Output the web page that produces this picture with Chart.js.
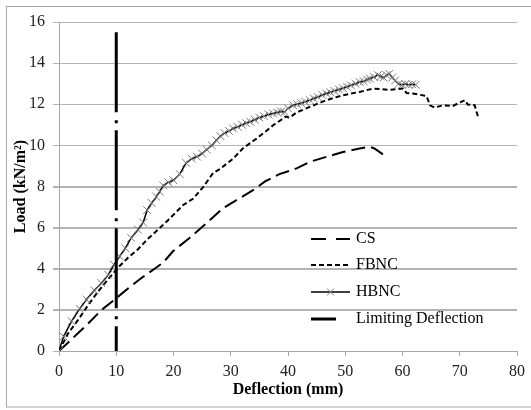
<!DOCTYPE html>
<html>
<head>
<meta charset="utf-8">
<script src="https://cdn.jsdelivr.net/npm/chart.js@4.4.1/dist/chart.umd.min.js"></script>
<style>
  html, body { margin: 0; padding: 0; background: #fff; }
  canvas { display: block; background: #fff; }
</style>
</head>
<body>
<canvas id="loadChart" width="531" height="410"></canvas>
<script>
// Deflection (mm) / load (kN/m2)
const csX = [0, 2.7, 5.1, 7.4, 9.7, 12.1, 14.4, 16.7, 18.2, 19.9, 22.8, 25.7, 28.6, 31.0, 33.9, 36.0, 38.5, 41.5, 43.8, 46.7, 49.6, 52.5, 54.3, 55.1, 57.2];
const csY = [0, 0.7, 1.34, 1.99, 2.5, 3.05, 3.55, 4.0, 4.3, 4.85, 5.5, 6.2, 6.93, 7.34, 7.82, 8.25, 8.6, 8.88, 9.2, 9.44, 9.68, 9.85, 9.93, 9.85, 9.44];

const fbncX = [0, 1.6, 3.3, 5.1, 6.8, 8.6, 10.3, 12.1, 13.8, 15.5, 17.3, 19.0, 19.9, 21.7, 23.4, 25.2, 26.9, 28.1, 30.4, 32.1, 34.5, 36.2, 37.4, 38.6, 39.6, 40.3, 41.5, 43.8, 46.7, 49.6, 52.5, 54.8, 57.8, 60.1, 60.7, 61.8, 64.2, 64.8, 65.6, 67.1, 68.8, 70.9, 71.4, 72.6, 73.2];
const fbncY = [0, 0.86, 1.5, 2.24, 2.88, 3.5, 4.05, 4.55, 4.95, 5.45, 5.9, 6.35, 6.6, 7.1, 7.4, 7.98, 8.65, 8.85, 9.35, 9.85, 10.33, 10.7, 10.98, 11.2, 11.4, 11.35, 11.6, 11.87, 12.2, 12.44, 12.6, 12.76, 12.7, 12.76, 12.55, 12.52, 12.4, 11.95, 11.84, 11.95, 11.92, 12.2, 11.99, 11.95, 11.38];

const hbncX = [0, 0.8, 2.2, 3.6, 4.8, 6.2, 7.4, 8.6, 9.6, 10.6, 11.6, 12.6, 13.8, 14.7, 15.4, 16.2, 17.0, 17.6, 18.2, 19.1, 20.0, 21.1, 22.2, 23.2, 24.1, 25.0, 25.8, 26.7, 27.5, 28.2, 28.9, 29.7, 30.4, 31.2, 32.0, 32.7, 33.4, 34.2, 35.0, 35.8, 36.6, 37.4, 38.1, 38.8, 39.4, 40.0, 40.9, 41.6, 42.3, 43.0, 43.8, 44.5, 45.2, 46.0, 46.7, 47.4, 48.1, 48.9, 49.6, 50.3, 51.0, 51.8, 52.5, 53.2, 53.8, 54.3, 55.0, 55.7, 56.2, 56.7, 57.2, 57.7, 58.2, 58.7, 59.3, 59.9, 60.5, 61.1, 61.7, 62.3];
const hbncY = [0, 0.7, 1.45, 2.05, 2.5, 2.95, 3.3, 3.7, 4.2, 4.6, 5.0, 5.5, 5.9, 6.25, 6.85, 7.2, 7.5, 7.75, 8.05, 8.2, 8.3, 8.6, 9.15, 9.35, 9.45, 9.6, 9.8, 10.0, 10.25, 10.45, 10.6, 10.7, 10.82, 10.9, 11.0, 11.08, 11.15, 11.25, 11.35, 11.42, 11.5, 11.55, 11.6, 11.65, 11.62, 11.8, 11.95, 12.0, 12.05, 12.12, 12.2, 12.28, 12.35, 12.45, 12.52, 12.58, 12.65, 12.72, 12.78, 12.85, 12.92, 13.0, 13.08, 13.12, 13.2, 13.25, 13.32, 13.42, 13.35, 13.3, 13.42, 13.48, 13.3, 13.15, 12.98, 12.95, 12.98, 12.95, 12.97, 12.95];

const limitX = [10, 10];
const limitY = [15.5, 0];

const seriesNames = ['CS', 'FBNC', 'HBNC', 'Limiting Deflection'];

const serif = "'Liberation Serif', 'Times New Roman', serif";
const gridGrey = '#b3b3b3';

function toPoints(xs, ys) {
  return xs.map((x, i) => ({ x: x, y: ys[i] }));
}

// horizontal gridlines at the y ticks, slipped in behind what is already drawn
const gridPlugin = {
  id: 'hGrid',
  afterDraw(chart) {
    const ctx = chart.ctx;
    const ys = chart.scales.y;
    const area = chart.chartArea;
    ctx.save();
    ctx.globalCompositeOperation = 'destination-over';
    ctx.strokeStyle = gridGrey;
    ctx.lineWidth = 1;
    ctx.setLineDash([]);
    ys.ticks.forEach(t => {
      const py = Math.round(ys.getPixelForValue(t.value)) + 0.5;
      ctx.beginPath();
      ctx.moveTo(area.left - 6, py);
      ctx.lineTo(area.right, py);
      ctx.stroke();
    });
    ctx.restore();
  }
};

// grey frame round the whole chart
const framePlugin = {
  id: 'frame',
  afterDraw(chart) {
    const ctx = chart.ctx;
    ctx.save();
    ctx.strokeStyle = '#a6a6a6';
    ctx.lineWidth = 1;
    ctx.strokeRect(6.5, 6.5, 540, 400.5);
    ctx.restore();
  }
};

// legend drawn inside the plot, like the Excel original
const legendPlugin = {
  id: 'innerLegend',
  afterDraw(chart) {
    const ctx = chart.ctx;
    const x0 = 311, x1 = 350, tx = 356;
    const rows = [239, 265, 292, 319];
    ctx.save();
    ctx.strokeStyle = '#000';
    ctx.lineCap = 'butt';
    ctx.font = '16px ' + serif;
    ctx.fillStyle = '#000';
    ctx.textBaseline = 'middle';
    rows.forEach((y, i) => {
      ctx.beginPath();
      if (i === 0) { ctx.setLineDash([15, 10]); ctx.lineWidth = 2; }
      else if (i === 1) { ctx.setLineDash([5, 3]); ctx.lineWidth = 2; }
      else if (i === 2) { ctx.setLineDash([]); ctx.lineWidth = 1.5; }
      else { ctx.setLineDash([]); ctx.lineWidth = 3; }
      const end = i === 3 ? 336 : x1;
      ctx.moveTo(x0, y);
      ctx.lineTo(end, y);
      ctx.stroke();
      if (i === 2) {
        const cx = (x0 + x1) / 2, r = 3.5;
        ctx.strokeStyle = '#808080';
        ctx.lineWidth = 1;
        ctx.beginPath();
        ctx.moveTo(cx - r, y - r); ctx.lineTo(cx + r, y + r);
        ctx.moveTo(cx - r, y + r); ctx.lineTo(cx + r, y - r);
        ctx.stroke();
        ctx.strokeStyle = '#000';
      }
      ctx.setLineDash([]);
      ctx.fillText(seriesNames[i], tx, y);
    });
    ctx.restore();
  }
};

const ctx = document.getElementById('loadChart').getContext('2d');
new Chart(ctx, {
  type: 'line',
  data: {
    datasets: [
      {
        label: seriesNames[3],
        data: toPoints(limitX, limitY),
        borderColor: '#000',
        borderWidth: 3,
        borderDash: [80, 8, 3, 7],
        pointRadius: 0
      },
      {
        label: seriesNames[2],
        data: toPoints(hbncX, hbncY),
        borderColor: '#000',
        borderWidth: 1.5,
        pointStyle: 'crossRot',
        pointRadius: 5.5,
        pointBorderColor: '#7a7a7a',
        pointBorderWidth: 1
      },
      {
        label: seriesNames[1],
        data: toPoints(fbncX, fbncY),
        borderColor: '#000',
        borderWidth: 2,
        borderDash: [5, 3],
        pointRadius: 0
      },
      {
        label: seriesNames[0],
        data: toPoints(csX, csY),
        borderColor: '#000',
        borderWidth: 2,
        borderDash: [14, 6],
        pointRadius: 0
      }
    ]
  },
  options: {
    responsive: false,
    animation: false,
    devicePixelRatio: 1,
    layout: { padding: { top: 22, right: 14, bottom: 0, left: 0 } },
    elements: { line: { tension: 0, fill: false } },
    plugins: {
      legend: { display: false },
      tooltip: { enabled: false }
    },
    scales: {
      x: {
        type: 'linear',
        min: 0,
        max: 80,
        afterFit: s => { s.height = 59; },
        ticks: {
          stepSize: 10,
          color: '#222',
          padding: 6,
          font: { family: serif, size: 16 }
        },
        grid: {
          display: true,
          drawOnChartArea: false,
          drawTicks: true,
          tickLength: 5,
          color: '#a6a6a6'
        },
        border: { display: true, color: '#a6a6a6', width: 1 },
        title: {
          display: true,
          text: 'Deflection (mm)',
          color: '#000',
          font: { family: serif, size: 16, weight: 'bold' },
          padding: { top: 0, bottom: 11 }
        }
      },
      y: {
        type: 'linear',
        min: 0,
        max: 16,
        afterFit: s => { s.width = 59; },
        ticks: {
          stepSize: 2,
          color: '#222',
          padding: 8,
          font: { family: serif, size: 16 }
        },
        grid: {
          display: true,
          drawOnChartArea: true,
          color: gridGrey,
          lineWidth: 1,
          drawTicks: true,
          tickLength: 6
        },
        border: { display: true, color: '#a6a6a6', width: 1 },
        title: {
          display: true,
          text: 'Load (kN/m²)',
          color: '#000',
          font: { family: serif, size: 16, weight: 'bold' },
          padding: { top: 11, bottom: 0 }
        }
      }
    }
  },
  plugins: [gridPlugin, framePlugin, legendPlugin]
});
</script>
</body>
</html>
